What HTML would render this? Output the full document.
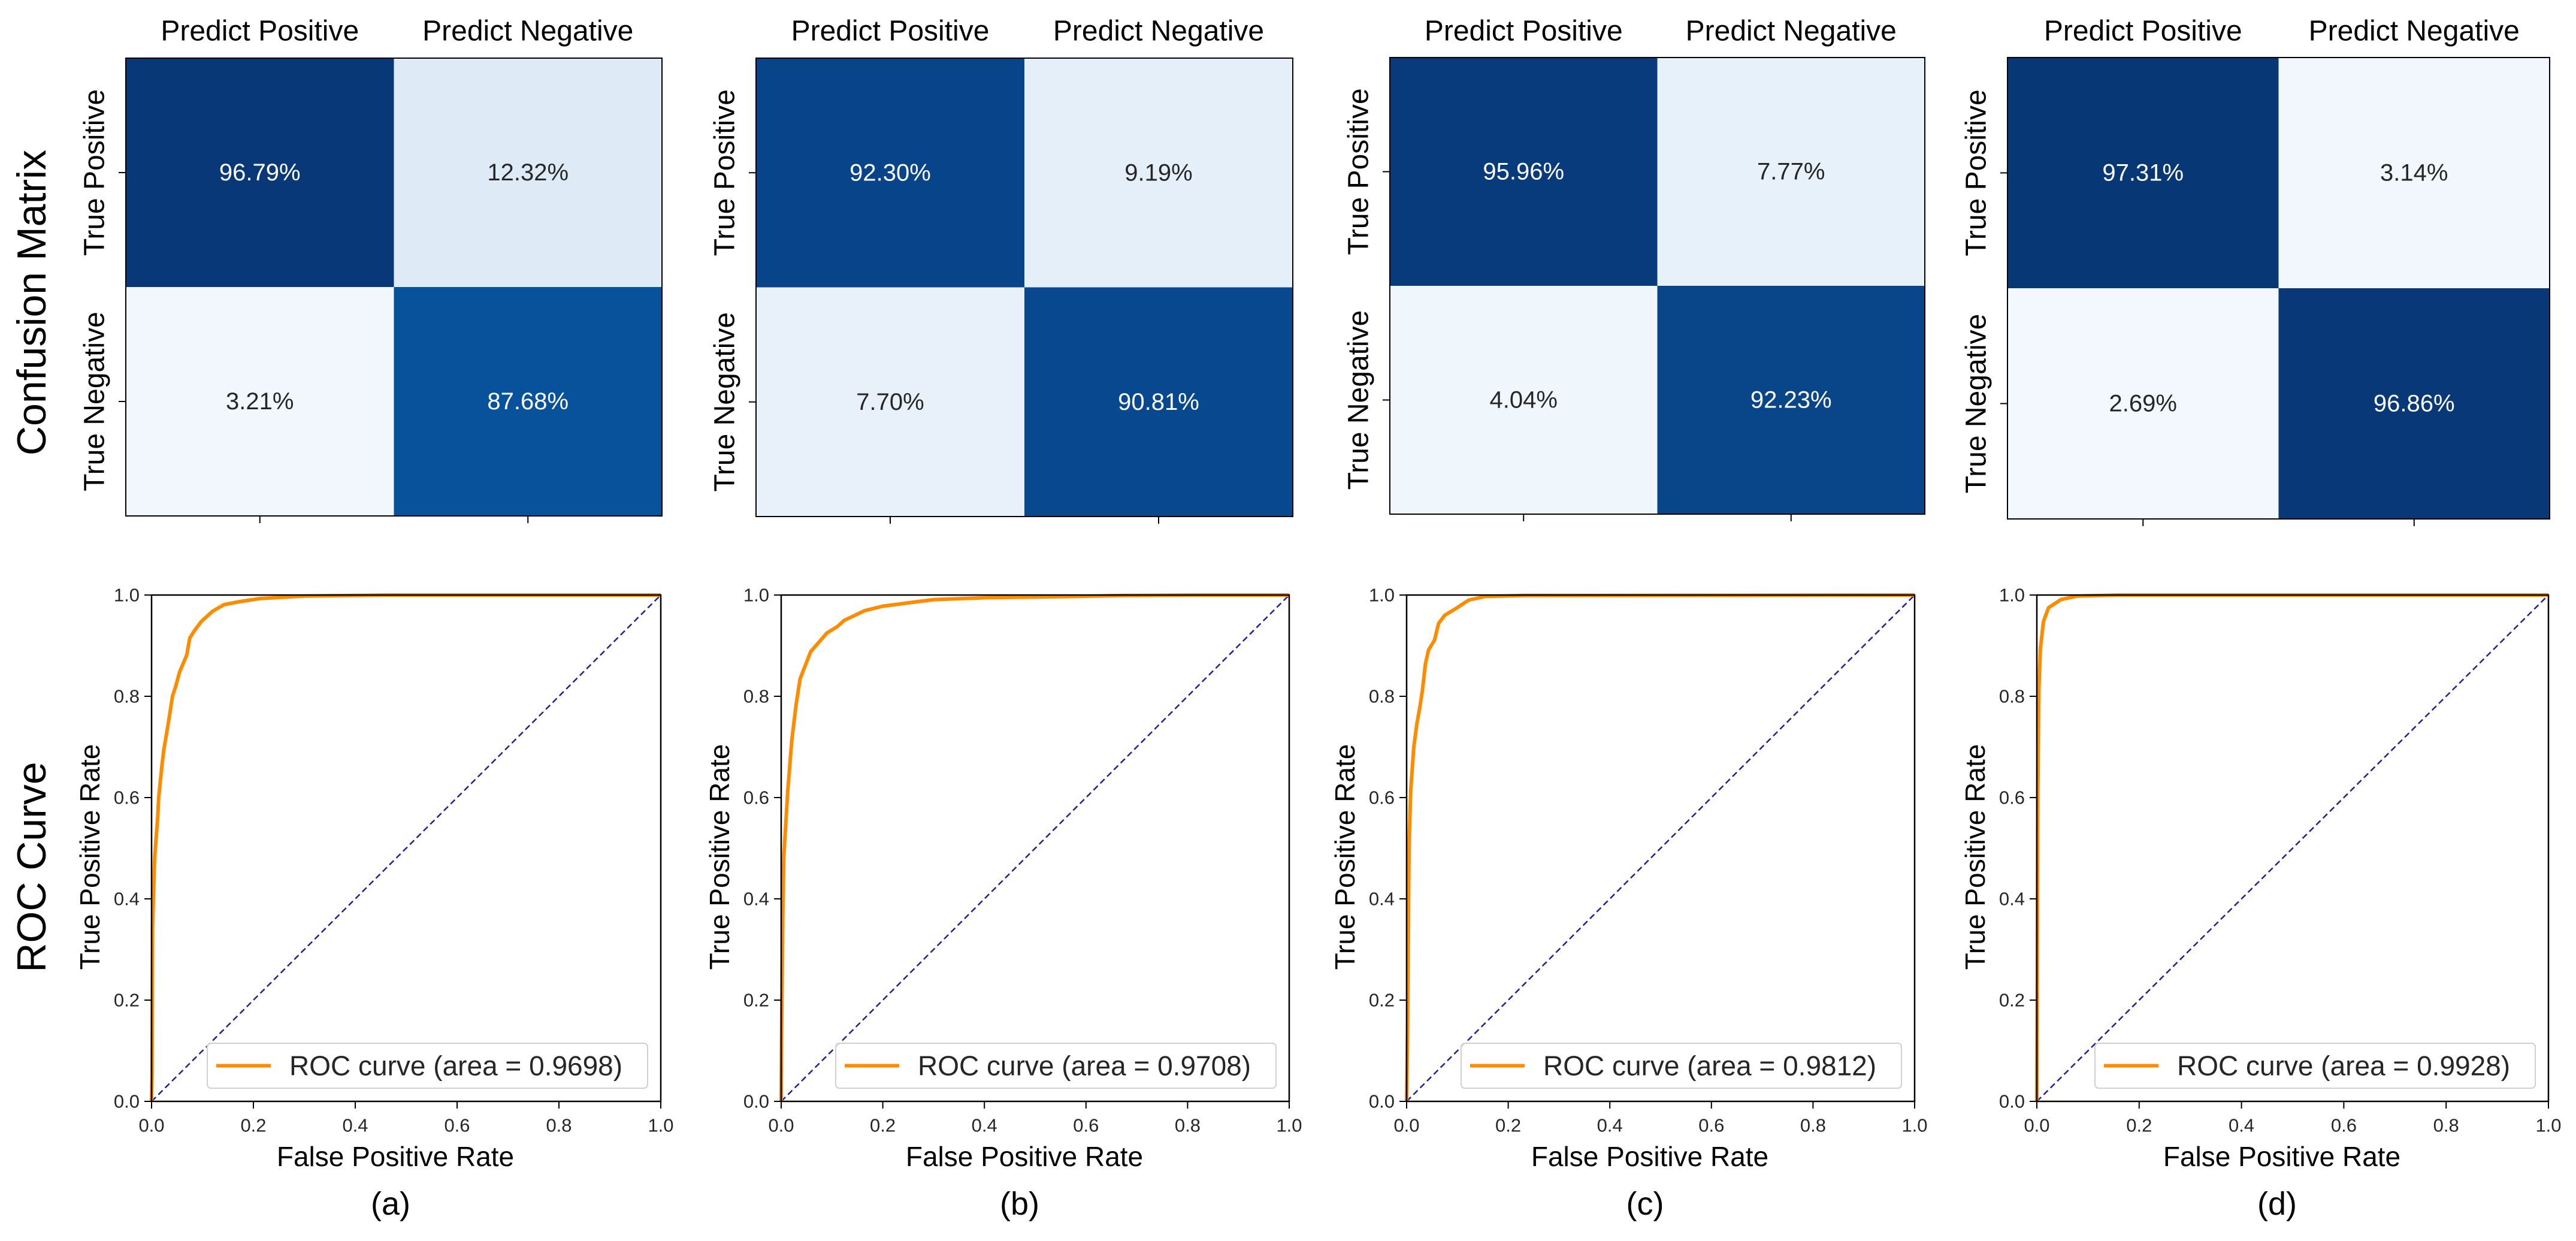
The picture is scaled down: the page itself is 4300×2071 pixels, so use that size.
<!DOCTYPE html>
<html><head><meta charset="utf-8"><style>
html,body{margin:0;padding:0;background:#fff;}
svg{display:block;font-family:"Liberation Sans","DejaVu Sans",sans-serif;}
</style></head><body>
<svg id="fig" width="4300" height="2071" viewBox="0 0 4300 2071" xmlns="http://www.w3.org/2000/svg">
<rect width="4300" height="2071" fill="#fff"/>
<text x="53" y="505" font-size="68" text-anchor="middle" dominant-baseline="central" transform="rotate(-90 53 505)" fill="#000">Confusion Matrix</text>
<text x="53" y="1447" font-size="68" text-anchor="middle" dominant-baseline="central" transform="rotate(-90 53 1447)" fill="#000">ROC Curve</text>
</svg>
<script>
// ---- data ----
const panelLabels = ["(a)", "(b)", "(c)", "(d)"];
const colLabels = ["Predict Positive", "Predict Negative"];
const rowLabels = ["True Positive", "True Negative"];
const cmA = [96.79, 12.32, 3.21, 87.68];
const cmB = [92.30, 9.19, 7.70, 90.81];
const cmC = [95.96, 7.77, 4.04, 92.23];
const cmD = [97.31, 3.14, 2.69, 96.86];
const aucs = ["0.9698", "0.9708", "0.9812", "0.9928"];
const fprA = [0, 0.001, 0.002, 0.006, 0.012, 0.014, 0.02, 0.024, 0.033, 0.041, 0.047, 0.055, 0.069, 0.075, 0.085, 0.098, 0.12, 0.142, 0.173, 0.213, 0.3, 0.457, 1];
const tprA = [0, 0.053, 0.347, 0.48, 0.56, 0.60, 0.66, 0.694, 0.748, 0.80, 0.818, 0.848, 0.881, 0.915, 0.931, 0.948, 0.968, 0.981, 0.987, 0.993, 0.998, 1, 1];
const fprB = [0, 0.001, 0.003, 0.005, 0.013, 0.021, 0.029, 0.037, 0.058, 0.09, 0.111, 0.124, 0.164, 0.2, 0.269, 0.301, 0.412, 0.57, 0.675, 0.82, 1];
const tprB = [0, 0.147, 0.347, 0.48, 0.614, 0.714, 0.781, 0.834, 0.888, 0.925, 0.938, 0.95, 0.969, 0.978, 0.987, 0.991, 0.995, 0.997, 0.999, 1, 1];
const fprC = [0, 0.002, 0.004, 0.005, 0.008, 0.014, 0.02, 0.026, 0.031, 0.037, 0.043, 0.055, 0.063, 0.075, 0.098, 0.122, 0.154, 0.232, 1];
const tprC = [0, 0.149, 0.414, 0.513, 0.613, 0.699, 0.745, 0.778, 0.811, 0.864, 0.891, 0.911, 0.944, 0.96, 0.974, 0.99, 0.997, 0.999, 1];
const fprD = [0, 0.001, 0.002, 0.004, 0.007, 0.013, 0.023, 0.047, 0.079, 0.158, 1];
const tprD = [0, 0.35, 0.616, 0.815, 0.895, 0.948, 0.975, 0.991, 0.998, 1, 1];
const tickLabels = ["0.0", "0.2", "0.4", "0.6", "0.8", "1.0"];
const tickValues = [0, 0.2, 0.4, 0.6, 0.8, 1.0];

const cms = [cmA, cmB, cmC, cmD];
const fprs = [fprA, fprB, fprC, fprD];
const tprs = [tprA, tprB, tprC, tprD];

// ---- layout ----
const cmBox = [{l:210,r:1105,t:97,b:861},{l:1262,r:2158,t:97,b:862},{l:2320,r:3213,t:96,b:858},{l:3351,r:4256,t:96,b:866}];
const rocBox = [{l:253,r:1103},{l:1304,r:2152},{l:2348,r:3196},{l:3400,r:4254}];
const rocTop = 993, rocBot = 1838;

const NS = "http://www.w3.org/2000/svg";
const svg = document.getElementById("fig");
function mk(tag, attrs, parent, txt) {
  const e = document.createElementNS(NS, tag);
  for (const k in attrs) e.setAttribute(k, attrs[k]);
  if (txt !== undefined) e.textContent = txt;
  (parent || svg).appendChild(e);
  return e;
}
const blues = ["#f7fbff","#deebf7","#c6dbef","#9ecae1","#6baed6","#4292c6","#2171b5","#08519c","#08306b"];
function hex(c){return [parseInt(c.substr(1,2),16),parseInt(c.substr(3,2),16),parseInt(c.substr(5,2),16)];}
function bluesColor(t){
  t = Math.max(0, Math.min(1, t));
  const p = t * 8, i = Math.min(7, Math.floor(p)), f = p - i;
  const a = hex(blues[i]), b = hex(blues[i+1]);
  return "rgb(" + a.map((v,k)=>Math.round(v + (b[k]-v)*f)).join(",") + ")";
}

for (let p = 0; p < 4; p++) {
  // ---------- confusion matrix ----------
  const B = cmBox[p];
  const g = mk("g", {});
  
  
  const cw = (B.r - B.l) / 2, ch = (B.b - B.t) / 2;
  const vals = cms[p];
  for (let i = 0; i < 4; i++) {
    const r = Math.floor(i / 2), c = i % 2;
    const x = B.l + c * cw, y = B.t + r * ch;
    const cell = mk("rect", {x:x, y:y, width:cw, height:ch, fill:bluesColor(vals[i]/100)}, g);
    
    
    const t = mk("text", {x:x+cw/2, y:y+ch/2, "font-size":40, "text-anchor":"middle", "dominant-baseline":"central", fill: vals[i] > 50 ? "#ffffff" : "#262626"}, g, vals[i].toFixed(2) + "%");
    
    
  }
  mk("rect", {x:B.l, y:B.t, width:B.r-B.l, height:B.b-B.t, fill:"none", stroke:"#000", "stroke-width":2}, g);
  for (let c = 0; c < 2; c++) {
    const cx = B.l + cw * (c + 0.5);
    const lab = mk("text", {x:cx, y:52, "font-size":48, "text-anchor":"middle", "dominant-baseline":"central", fill:"#000"}, g, colLabels[c]);
    
    
    mk("line", {x1:cx, y1:B.b, x2:cx, y2:B.b+12, stroke:"#000", "stroke-width":2}, g);
  }
  for (let r = 0; r < 2; r++) {
    const cy = B.t + ch * (r + 0.5);
    const lx = B.l - 52;
    const lab = mk("text", {x:lx, y:cy, "font-size":48, "text-anchor":"middle", "dominant-baseline":"central", fill:"#000", transform:"rotate(-90 " + lx + " " + cy + ")"}, g, rowLabels[r]);
    
    
    mk("line", {x1:B.l, y1:cy, x2:B.l-12, y2:cy, stroke:"#000", "stroke-width":2}, g);
  }

  // ---------- ROC ----------
  const R = rocBox[p];
  const rg = mk("g", {});
  
  
  const xs = v => R.l + v * (R.r - R.l);
  const ys = v => rocBot - v * (rocBot - rocTop);
  // diagonal
  const diag = mk("line", {x1:xs(0), y1:ys(0), x2:xs(1), y2:ys(1), stroke:"#1f1f9a", "stroke-width":2.5, "stroke-dasharray":"10,6"}, rg);
  
  
  // curve
  const fp = fprs[p], tp = tprs[p];
  let d = "";
  for (let i = 0; i < fp.length; i++) d += (i ? "L" : "M") + xs(fp[i]).toFixed(1) + "," + ys(tp[i]).toFixed(1);
  const curve = mk("path", {d:d, fill:"none", stroke:"#ff8c00", "stroke-width":6, "stroke-linejoin":"round"}, rg);
  
  
  // spines
  mk("rect", {x:R.l, y:rocTop, width:R.r-R.l, height:rocBot-rocTop, fill:"none", stroke:"#000", "stroke-width":2.5}, rg);
  // ticks
  for (let i = 0; i < tickValues.length; i++) {
    const tx = xs(tickValues[i]), ty = ys(tickValues[i]);
    mk("line", {x1:tx, y1:rocBot, x2:tx, y2:rocBot+12, stroke:"#000", "stroke-width":2}, rg);
    const xl = mk("text", {x:tx, y:rocBot+40, "font-size":31, "text-anchor":"middle", "dominant-baseline":"central", fill:"#262626"}, rg, tickLabels[i]);
    
    
    mk("line", {x1:R.l, y1:ty, x2:R.l-12, y2:ty, stroke:"#000", "stroke-width":2}, rg);
    const yl = mk("text", {x:R.l-20, y:ty, "font-size":31, "text-anchor":"end", "dominant-baseline":"central", fill:"#262626"}, rg, tickLabels[i]);
    
    
  }
  const cxm = (R.l + R.r) / 2;
  const xt = mk("text", {x:cxm-18, y:1930, "font-size":46, "text-anchor":"middle", "dominant-baseline":"central", fill:"#000"}, rg, "False Positive Rate");
  
  
  const yx = R.l - 103, yy = 1430;
  const yt = mk("text", {x:yx, y:yy, "font-size":46, "text-anchor":"middle", "dominant-baseline":"central", fill:"#000", transform:"rotate(-90 " + yx + " " + yy + ")"}, rg, "True Positive Rate");
  
  
  const pl = mk("text", {x:cxm-26, y:2009, "font-size":54, "text-anchor":"middle", "dominant-baseline":"central", fill:"#000"}, rg, panelLabels[p]);
  
  
  // legend
  const lg = mk("g", {}, rg);
  
  
  const lr = R.r - 22, lb = rocBot - 22, lw = 735, lh = 75;
  mk("rect", {x:lr-lw, y:lb-lh, width:lw, height:lh, rx:6, fill:"#fff", "fill-opacity":0.85, stroke:"#d0d0d0", "stroke-width":2}, lg);
  const ly = lb - lh/2;
  mk("line", {x1:lr-lw+15, y1:ly, x2:lr-lw+106, y2:ly, stroke:"#ff8c00", "stroke-width":6}, lg);
  const lt = mk("text", {x:lr-lw+137, y:ly, "font-size":46, "dominant-baseline":"central", fill:"#262626"}, lg, "ROC curve (area = " + aucs[p] + ")");
  
  
}
</script>
</body></html>
